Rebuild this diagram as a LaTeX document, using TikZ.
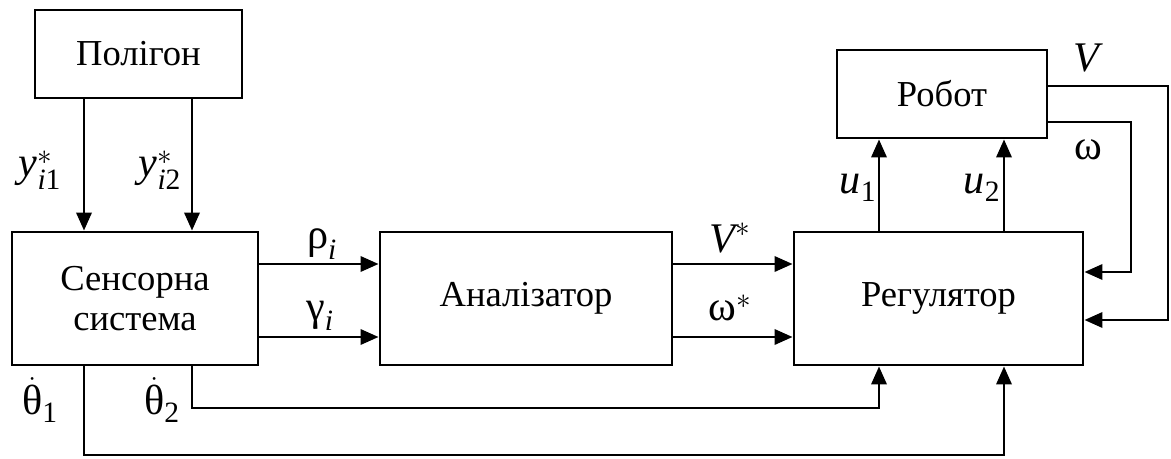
\documentclass[tikz,border=0pt]{standalone}
\usepackage{fontspec}
\setmainfont{Liberation Serif}
\usepackage{amsmath}
\usetikzlibrary{arrows.meta}

\tikzset{
  blk/.style={draw, line width=2pt, inner sep=0pt, align=center},
  sig/.style={line width=2pt},
  lbl/.style={font=\fontsize{30}{34}\selectfont, inner sep=1pt}
}

\begin{document}
\begin{tikzpicture}[x=0.025cm,y=-0.025cm,>={Triangle[length=0.45cm,width=0.38cm]},
  font=\fontsize{26}{28.5}\selectfont]
\useasboundingbox (0,0) rectangle (1171,459);
% blocks
\node[blk, minimum width=5.175cm, minimum height=2.2cm] (pol) at (138.5,54) {Полігон};
\node[blk, minimum width=6.15cm, minimum height=3.325cm] (sens) at (135,298.5) {Сенсорна\\система};
\node[blk, minimum width=7.3cm, minimum height=3.325cm] (anal) at (526,298.5) {Аналізатор};
\node[blk, minimum width=7.225cm, minimum height=3.325cm] (reg) at (938.5,298.5) {Регулятор};
\node[blk, minimum width=5.25cm, minimum height=2.2cm] (rob) at (942,94) {Робот};
% columns and rows of the signal lines
\coordinate (ca) at (84,0);
\coordinate (cb) at (192,0);
\coordinate (cc) at (879,0);
\coordinate (cd) at (1004,0);
\coordinate (r1) at (0,264);
\coordinate (r2) at (0,337);
\coordinate (fw) at (1131,272);
\coordinate (fv) at (1168,320);
\coordinate (b2) at (0,408);
\coordinate (b1) at (0,455);
% polygon -> sensors
\draw[sig,->] (ca |- pol.south) -- (ca |- sens.north);
\draw[sig,->] (cb |- pol.south) -- (cb |- sens.north);
% sensors -> analyser -> regulator
\draw[sig,->] (sens.east |- r1) -- (anal.west |- r1);
\draw[sig,->] (sens.east |- r2) -- (anal.west |- r2);
\draw[sig,->] (anal.east |- r1) -- (reg.west |- r1);
\draw[sig,->] (anal.east |- r2) -- (reg.west |- r2);
% regulator -> robot
\draw[sig,->] (cc |- reg.north) -- (cc |- rob.south);
\draw[sig,->] (cd |- reg.north) -- (cd |- rob.south);
% feedback
\draw[sig,->] (rob.east |- 0,122) -| (fw) -- (reg.east |- fw);
\draw[sig,->] (rob.east |- 0,86) -| (fv) -- (reg.east |- fv);
\draw[sig,->] (cb |- sens.south) -- (cb |- b2) -| (cc |- reg.south);
\draw[sig,->] (ca |- sens.south) -- (ca |- b1) -| (cd |- reg.south);
% labels
\node[lbl] (ly1) at (40,170) {$\textit{y}^{*}_{\textit{i}\text{1}}$};
\node[lbl] (ly2) at (160,170) {$\textit{y}^{*}_{\textit{i}\text{2}}$};
\node[lbl] (lrho) at (322,244) {$\text{ρ}_{\textit{i}}$};
\node[lbl] (lgam) at (320,316) {$\text{γ}_{\textit{i}}$};
\node[lbl] (lvs) at (730,238) {$\textit{V}^{*}$};
\node[lbl] (lws) at (730,308) {$\text{ω}^{*}$};
\node[lbl] (lu1) at (858,188) {$\textit{u}_{\text{1}}$};
\node[lbl] (lu2) at (982,188) {$\textit{u}_{\text{2}}$};
\node[lbl] (lv) at (1088,58) {\textit{V}};
\node[lbl] (lw) at (1088,150) {ω};
\node[lbl] (lt1) at (40,400) {$\dot{\text{θ}}_{\text{1}}$};
\node[lbl] (lt2) at (162,400) {$\dot{\text{θ}}_{\text{2}}$};
\end{tikzpicture}
\end{document}
